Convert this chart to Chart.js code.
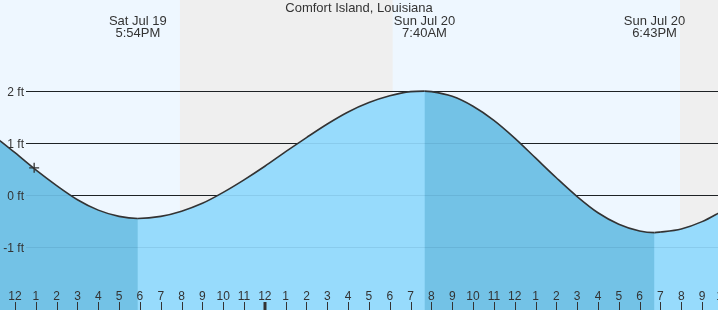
<!DOCTYPE html>
<html>
<head>
<meta charset="utf-8">
<script src="https://cdn.jsdelivr.net/npm/chart.js@4.4.0/dist/chart.umd.min.js"></script>
<style>
    html, body { margin: 0; padding: 0; background: #fff; }
    canvas { display: block; }
</style>
</head>
<body>
<canvas id="tideChart" width="718" height="310"></canvas>
<script>
// hours counted from Sat Jul 19 00:00, heights in feet
const placeName = "Comfort Island, Louisiana";
const tideHours = [11, 12, 13, 14, 15, 16, 17, 17.9, 19, 20, 21, 22, 23, 24, 25, 26, 27, 28, 29, 30, 31, 31.667,
    32, 33, 34, 35, 36, 37, 38, 39, 40, 41, 42, 42.717, 43, 44, 45, 46];
const tideFeet = [1.14, 0.82, 0.49, 0.19, -0.08, -0.28, -0.40, -0.44, -0.40, -0.30, -0.15, 0.06, 0.30, 0.56, 0.84, 1.11, 1.37, 1.60, 1.78, 1.91, 1.99, 2.00,
    1.99, 1.90, 1.71, 1.44, 1.10, 0.72, 0.34, -0.02, -0.33, -0.55, -0.68, -0.71, -0.70, -0.64, -0.50, -0.29];

const extremeHours = [17.9, 31.667, 42.717];
const extremeDays = ["Sat Jul 19", "Sun Jul 20", "Sun Jul 20"];
const extremeTimes = ["5:54PM", "7:40AM", "6:43PM"];

const nightStarts = [19.92, 43.94];
const nightEnds = [30.14, 54.16];

const markerHours = [12.92];
const markerFeet = [0.53];

const footTicks = [-1, 0, 1, 2];
const clockLabels = ["12", "1", "2", "3", "4", "5", "6", "7", "8", "9", "10", "11"];

const textColor = "#333";
const risingColor = "#97dbfc";
const fallingColor = "#73c2e6";

function drawFootLines(chart, color) {
    const { ctx, chartArea, scales } = chart;
    ctx.save();
    ctx.strokeStyle = color;
    ctx.lineWidth = 1;
    footTicks.forEach((v) => {
        const y = Math.floor(scales.y.getPixelForValue(v)) + 0.5;
        ctx.beginPath();
        ctx.moveTo(26, y);
        ctx.lineTo(chartArea.right, y);
        ctx.stroke();
    });
    ctx.restore();
}

const tidePlugin = {
    id: "tideDecor",
    beforeDraw(chart) {
        const { ctx, chartArea, scales } = chart;
        ctx.save();
        ctx.fillStyle = "#eef7ff";
        ctx.fillRect(0, 0, chart.width, chart.height);
        ctx.fillStyle = "#efefef";
        nightStarts.forEach((s, i) => {
            const x0 = scales.x.getPixelForValue(s);
            const x1 = scales.x.getPixelForValue(nightEnds[i]);
            ctx.fillRect(x0, chartArea.top, x1 - x0, chartArea.bottom - chartArea.top);
        });
        ctx.restore();
    },
    beforeDatasetsDraw(chart) {
        drawFootLines(chart, "#222");
    },
    afterDatasetsDraw(chart) {
        // faint lines showing through the water
        drawFootLines(chart, "rgba(0, 40, 80, 0.09)");
    },
    afterDraw(chart) {
        const { ctx, scales } = chart;
        ctx.save();
        ctx.fillStyle = textColor;
        ctx.strokeStyle = textColor;

        // y labels
        ctx.font = "12px 'Liberation Sans', Arial, sans-serif";
        ctx.textAlign = "right";
        ctx.textBaseline = "alphabetic";
        footTicks.forEach((v) => {
            const y = Math.floor(scales.y.getPixelForValue(v)) + 0.5;
            ctx.fillText(v + " ft", 24, y + 4.5);
        });

        // hour labels + ticks
        ctx.textAlign = "center";
        for (let h = Math.ceil(scales.x.min); h <= Math.floor(scales.x.max) + 1; h++) {
            const x = scales.x.getPixelForValue(h);
            ctx.fillText(clockLabels[h % 12], x, 300);
            const midnight = h % 24 === 0;
            ctx.lineWidth = midnight ? 3 : 1;
            const tx = midnight ? Math.round(x) : Math.round(x) + 0.5;
            ctx.beginPath();
            ctx.moveTo(tx, 302);
            ctx.lineTo(tx, 310);
            ctx.stroke();
        }

        // title and high/low labels
        ctx.font = "13px 'Liberation Sans', Arial, sans-serif";
        ctx.fillText(placeName, chart.width / 2, 12);
        extremeHours.forEach((h, i) => {
            const x = scales.x.getPixelForValue(h);
            ctx.fillText(extremeDays[i], x, 25);
            ctx.fillText(extremeTimes[i], x, 37);
        });
        ctx.restore();
    },
};

const tidePoints = tideHours.map((h, i) => ({ x: h, y: tideFeet[i] }));

new Chart(document.getElementById("tideChart"), {
    type: "line",
    data: {
        datasets: [
            {
                type: "scatter",
                order: 0,
                data: markerHours.map((h, i) => ({ x: h, y: markerFeet[i] })),
                pointStyle: "cross",
                pointRadius: 5,
                borderColor: "#333",
                borderWidth: 1.3,
                clip: false,
            },
            {
                order: 1,
                data: tidePoints,
                borderColor: "#333",
                borderWidth: 1.6,
                pointRadius: 0,
                cubicInterpolationMode: "monotone",
                fill: "start",
                backgroundColor: risingColor,
                segment: {
                    backgroundColor: (c) => (c.p1.parsed.y < c.p0.parsed.y ? fallingColor : risingColor),
                },
            },
            {
                // plain water underneath so the segment seams don't show
                order: 2,
                data: tidePoints,
                borderWidth: 0,
                pointRadius: 0,
                cubicInterpolationMode: "monotone",
                fill: "start",
                backgroundColor: risingColor,
            },
        ],
    },
    options: {
        responsive: false,
        animation: false,
        devicePixelRatio: 1,
        layout: { padding: 0, autoPadding: false },
        plugins: {
            legend: { display: false },
            tooltip: { enabled: false },
        },
        scales: {
            x: { type: "linear", min: 11.2795, max: 45.765, display: false },
            y: { type: "linear", min: -2.193, max: 3.745, display: false },
        },
    },
    plugins: [tidePlugin],
});
</script>
</body>
</html>
